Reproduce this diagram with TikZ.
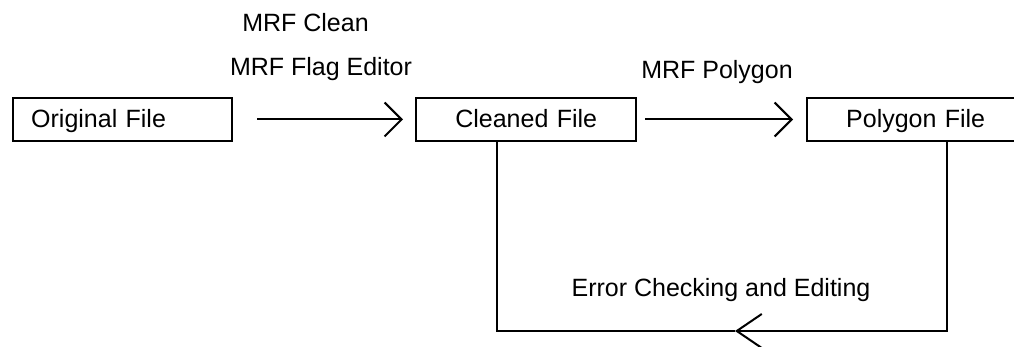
\documentclass[tikz,border=0pt]{standalone}
\usepackage{fontspec}
\setmainfont{Liberation Sans}
\usetikzlibrary{arrows.meta}
\newcommand\labelfont{\fontsize{12.5}{15}\selectfont}

\begin{document}
\begin{tikzpicture}[
  x=0.5pt, y=-0.5pt,
  filebox/.style={draw, line width=1.2pt, minimum height=21.5pt, text height=9pt, text depth=0.5pt, anchor=west, align=left, font=\labelfont},
  toolname/.style={anchor=base, font=\labelfont, inner sep=0pt},
  flow/.style={line width=1pt, -{Straight Barb[length=8.5pt,width=17pt,line width=1pt]}}
]
  \useasboundingbox (0,0) rectangle (1014,347);
  \clip (0,0) rectangle (1014,347);

  \node[filebox, inner xsep=9pt, text width=91.5pt] (orig) at (12,119.5) {Original File};
  \node[filebox, inner xsep=15pt, text width=80pt, align=center] (clean) at (415,119.5) {Cleaned File};
  \node[filebox, inner xsep=19.5pt, text width=78pt] (poly) at (806,119.5) {Polygon File};

  \node[toolname] (tclean) at (305.5,32) {MRF Clean};
  \node[toolname] (tflag) at (321,76) {MRF Flag Editor};
  \node[toolname] (tpoly) at (717,79) {MRF Polygon};
  \node[toolname] (tcheck) at (721,297) {Error Checking and Editing};

  \coordinate (back) at (735,331);

  \draw[flow, shorten <=12pt, shorten >=6pt] (orig.east) -- (clean.west);
  \draw[flow, shorten <=4pt, shorten >=6.5pt] (clean.east) -- (poly.west);

  \draw[flow, -{Straight Barb[length=12.5pt,width=17pt,line width=1pt]}] ([xshift=70.5pt]poly.south west) |- (back);
  \draw[line width=1pt] (back) -| ([xshift=41pt]clean.south west);
\end{tikzpicture}
\end{document}
